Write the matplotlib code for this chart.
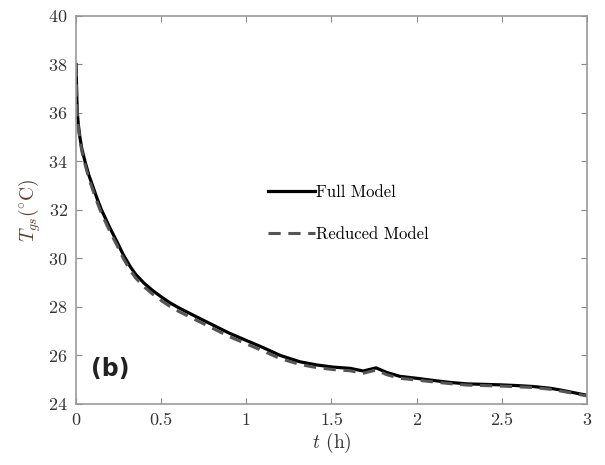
import numpy as np
import matplotlib
matplotlib.use("Agg")
import matplotlib.pyplot as plt

plt.rcParams['font.family'] = 'serif'
plt.rcParams['font.serif'] = ['cmr10']
plt.rcParams['mathtext.fontset'] = 'cm'
plt.rcParams['axes.unicode_minus'] = False
plt.rcParams['axes.formatter.use_mathtext'] = True

# Values
t_full = [0, 0.003, 0.005, 0.008, 0.014, 0.023, 0.035, 0.053, 0.075, 0.1, 0.125, 0.15,
          0.2, 0.24, 0.278, 0.32, 0.35, 0.4, 0.45, 0.5, 0.55, 0.6, 0.7, 0.8, 0.9,
          1.0, 1.1, 1.2, 1.315, 1.413, 1.511, 1.609, 1.687, 1.762, 1.824, 1.902, 2.0,
          2.098, 2.196, 2.294, 2.392, 2.49, 2.588, 2.685, 2.783, 2.842, 2.92, 3.0]
T_full = [38.0, 37.2, 36.6, 36.0, 35.5, 35.0, 34.5, 34.0, 33.45, 32.95, 32.45, 32.0,
          31.25, 30.7, 30.15, 29.65, 29.35, 28.98, 28.68, 28.42, 28.18, 27.98, 27.62, 27.27, 26.92,
          26.62, 26.32, 26.0, 25.74, 25.61, 25.52, 25.47, 25.36, 25.49, 25.3, 25.14, 25.06,
          24.97, 24.89, 24.83, 24.81, 24.79, 24.76, 24.72, 24.65, 24.58, 24.47, 24.36]

t_red = t_full
T_red = [38.0, 37.1, 36.5, 35.9, 35.4, 34.9, 34.4, 33.88, 33.32, 32.8, 32.3, 31.85,
         31.1, 30.55, 30.0, 29.5, 29.2, 28.83, 28.53, 28.27, 28.03, 27.83, 27.48, 27.13, 26.78,
         26.48, 26.18, 25.87, 25.63, 25.5, 25.42, 25.37, 25.27, 25.4, 25.21, 25.06, 24.99,
         24.91, 24.84, 24.78, 24.76, 24.74, 24.71, 24.68, 24.61, 24.54, 24.44, 24.33]

x_ticks = [0, 0.5, 1, 1.5, 2, 2.5, 3]
x_ticklabels = ['0', '0.5', '1', '1.5', '2', '2.5', '3']
y_ticks = [24, 26, 28, 30, 32, 34, 36, 38, 40]

fig = plt.figure(figsize=(6.05, 4.65), dpi=100)
ax = fig.add_axes([0.1256, 0.1312, 0.8446, 0.8344])

ax.plot(t_full, T_full, color='black', lw=2.3, label='Full Model',
        solid_joinstyle='round')
ax.plot(t_red, T_red, color='#555555', lw=2.2, dashes=(4, 2.5), label='Reduced Model')

ax.set_xlim(0, 3)
ax.set_ylim(24, 40)
ax.set_xticks(x_ticks)
ax.set_xticklabels(x_ticklabels)
ax.set_yticks(y_ticks)
ax.tick_params(direction='in', top=True, right=True, length=4, color='#888888',
               labelsize=13, labelcolor='#333333', pad=6)
for s in ax.spines.values():
    s.set_color('#999999')
    s.set_linewidth(1.2)

ax.set_xlabel(r'$t$ (h)', fontsize=14, color='#333333', labelpad=2)
ax.set_ylabel(r'$T_{gs}(^{\circ}\mathrm{C})$', fontsize=14, color='#5c4033', labelpad=4)

leg = ax.legend(loc='center left', bbox_to_anchor=(0.376, 0.492), frameon=False,
                fontsize=12, handlelength=2.8, handletextpad=0.1, labelspacing=1.6,
                borderpad=0, borderaxespad=0)

ax.text(0.03, 0.09, '(b)', transform=ax.transAxes, fontsize=17, fontweight='bold',
        family='DejaVu Sans', va='center', ha='left', color='#222222')

fig.savefig('out.png', dpi=100)
